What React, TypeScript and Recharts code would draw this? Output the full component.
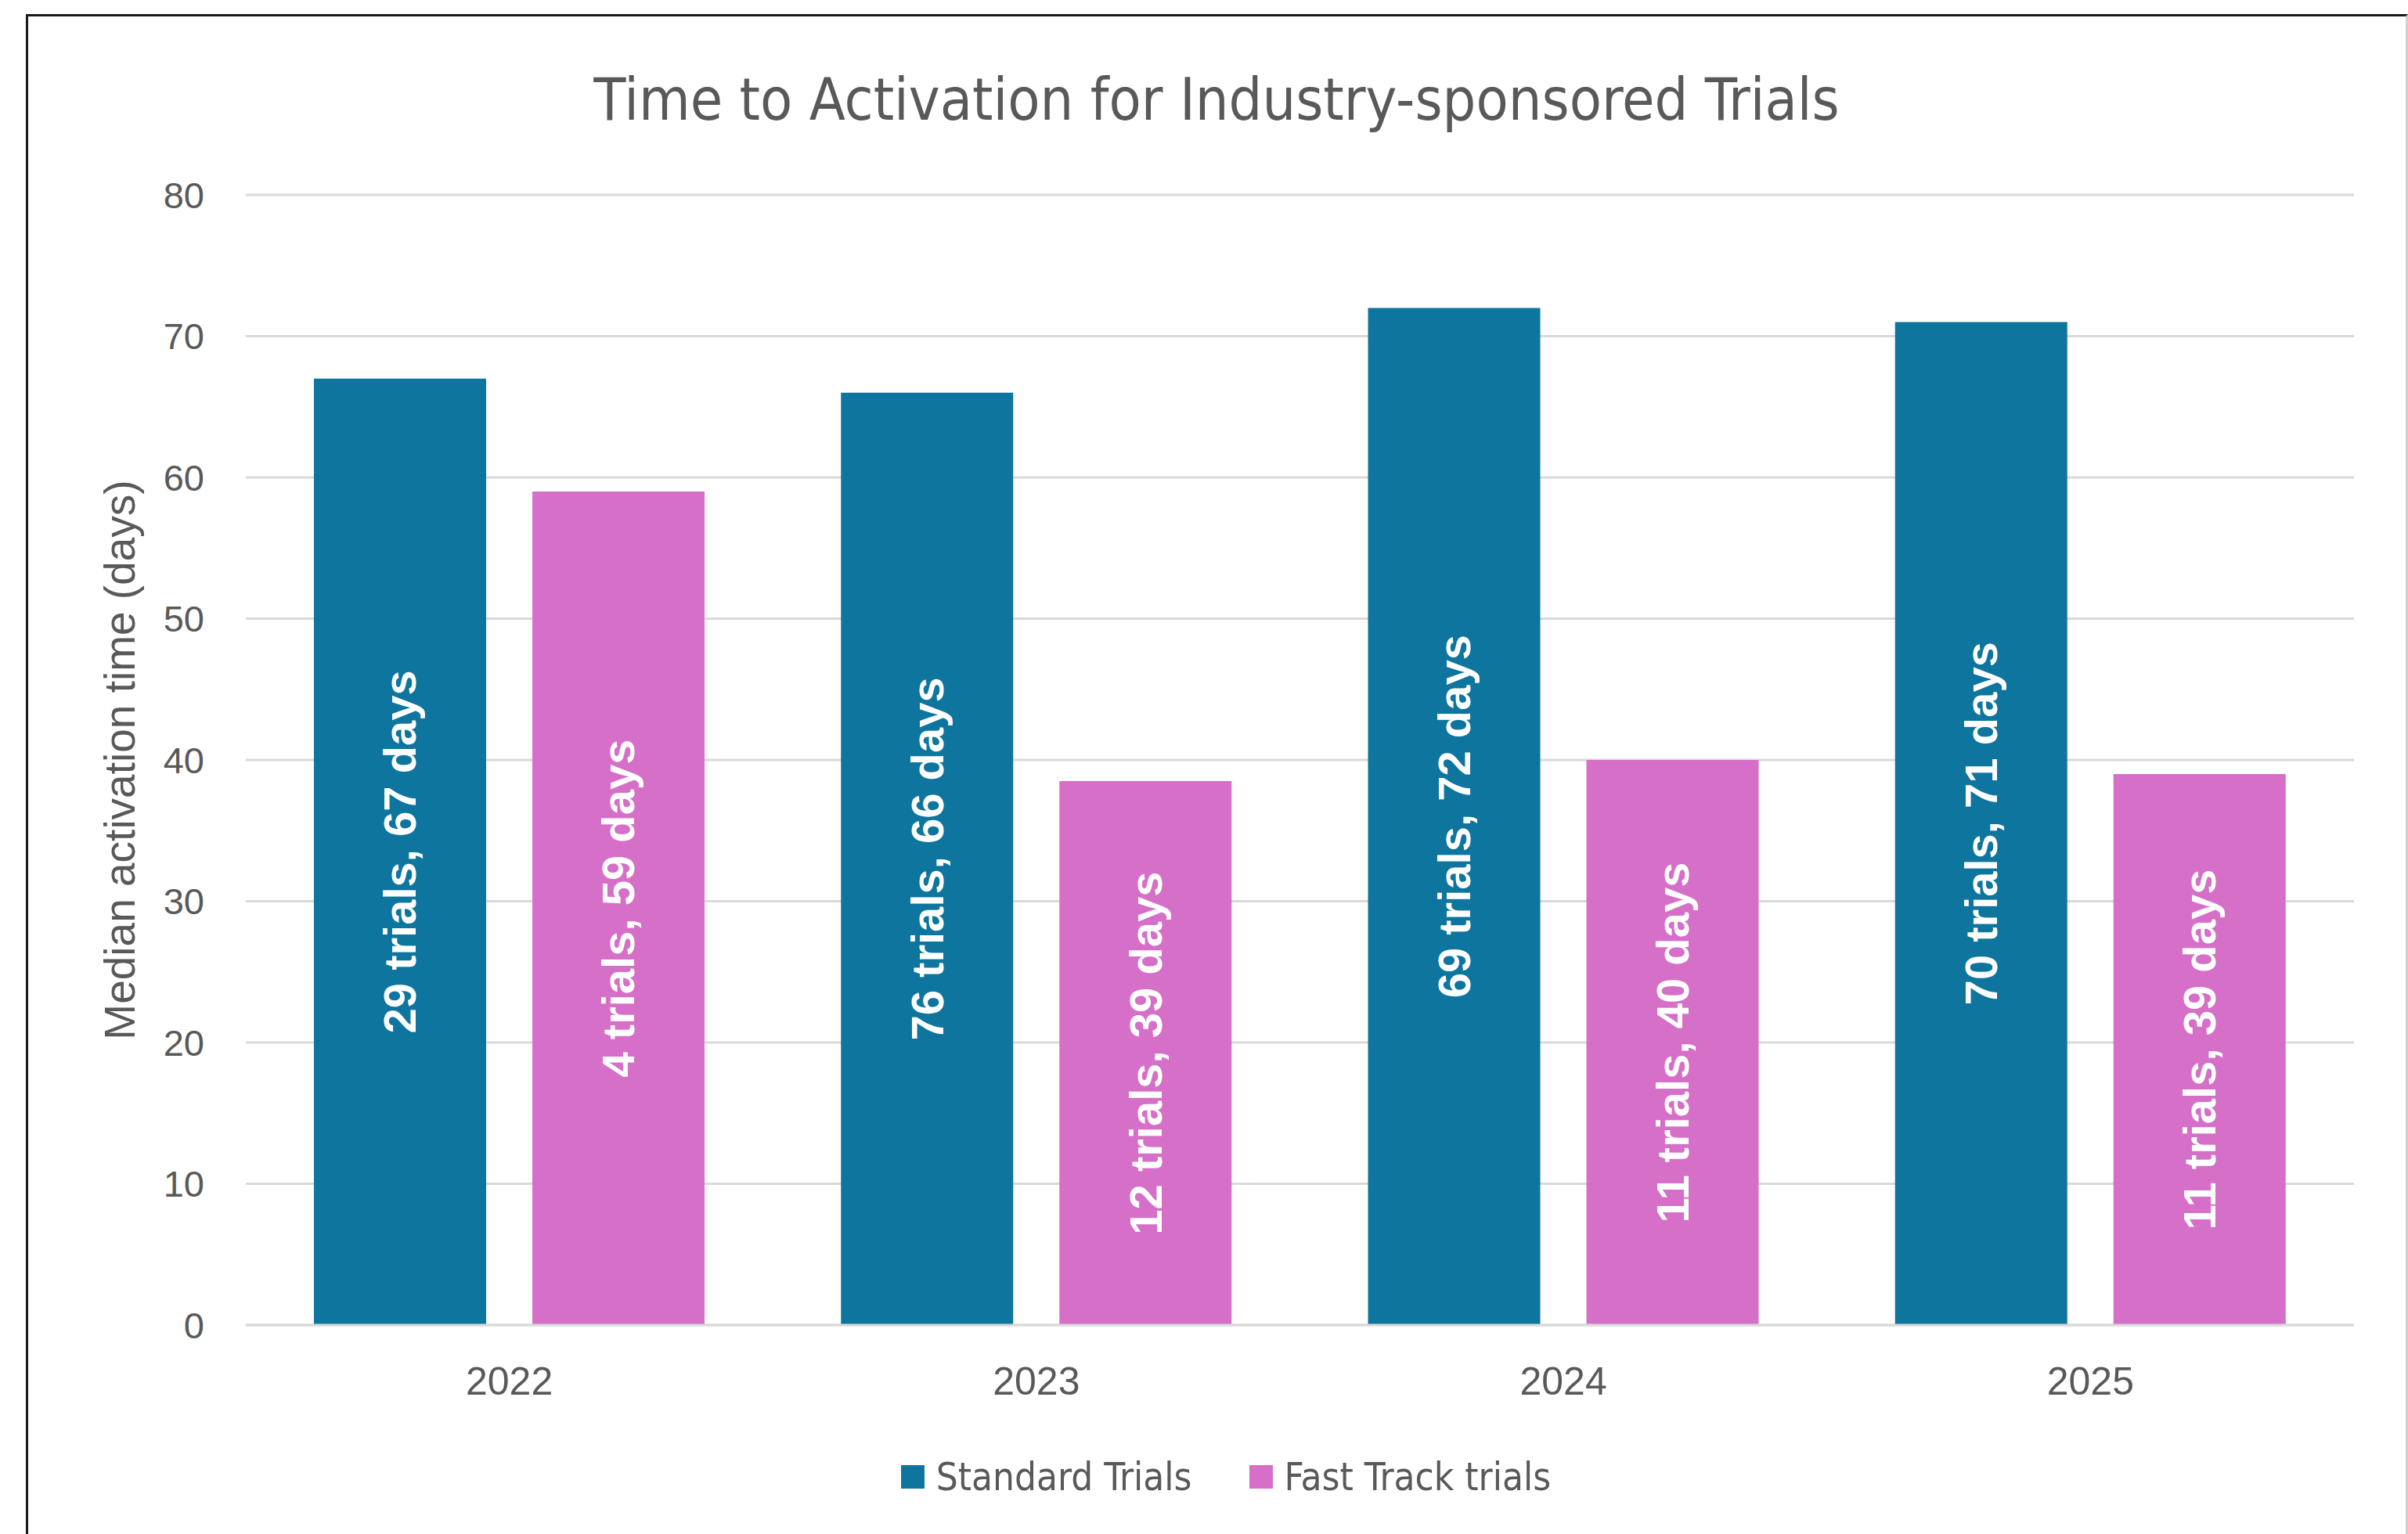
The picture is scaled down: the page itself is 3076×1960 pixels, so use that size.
import { BarChart, Bar, XAxis, YAxis, CartesianGrid, Legend, LabelList } from 'recharts';

const years = ['2022', '2023', '2024', '2025'];
const standardDays = [67, 66, 72, 71];
const fastTrackDays = [59, 38.5, 40, 39];
const standardTrials = [29, 76, 69, 70];
const fastTrackTrials = [4, 12, 11, 11];
const standardLabelDays = [67, 66, 72, 71];
const fastTrackLabelDays = [59, 39, 40, 39];
const yTicks = [0, 10, 20, 30, 40, 50, 60, 70, 80];

const seriesNames = ['Standard Trials', 'Fast Track trials'];
const seriesColors = ['#0D759E', '#D66FC8'];

const data = years.map((year, i) => ({
    year,
    standard: standardDays[i],
    fastTrack: fastTrackDays[i],
    standardLabel: `${standardTrials[i]} trials, ${standardLabelDays[i]} days`,
    fastTrackLabel: `${fastTrackTrials[i]} trials, ${fastTrackLabelDays[i]} days`,
}));

const narrowFont = '"Liberation Sans Narrow", "DejaVu Sans Condensed", "Roboto Condensed", "Arial Narrow", Roboto, sans-serif';
const axisFont = '"Liberation Sans", Arial, sans-serif';

const BarText = (props: any) => {
    const { x, y, width, height, value } = props;
    const cx = Number(x) + Number(width) / 2;
    const cy = Number(y) + Number(height) / 2;
    return (
        <text
            x={cx}
            y={cy}
            transform={`rotate(-90, ${cx}, ${cy})`}
            textAnchor="middle"
            dominantBaseline="central"
            fill="#ffffff"
            fontWeight={700}
            fontSize={58}
            fontFamily={axisFont}
        >
            {value}
        </text>
    );
};

const LegendContent = () => (
    <div style={{ display: 'flex', justifyContent: 'center', paddingLeft: 125, height: 70, alignItems: 'center' }}>
        {seriesNames.map((name, i) => (
            <div key={name} style={{ display: 'flex', alignItems: 'center', marginRight: i === 0 ? 73 : 0 }}>
                <span style={{ width: 30, height: 30, background: seriesColors[i], marginRight: 15, display: 'inline-block' }} />
                <span style={{ fontFamily: narrowFont, fontStretch: 'condensed', fontSize: 49, color: '#595959' }}>{name}</span>
            </div>
        ))}
    </div>
);

export default function App() {
    return (
        <div style={{ position: 'absolute', left: 0, top: 0, width: 3076, height: 1960, background: '#fff', overflow: 'hidden' }}>
            <div
                style={{
                    position: 'absolute',
                    left: 33,
                    top: 18,
                    width: 3076 - 33 - 6,
                    height: 1960,
                    borderTop: '3px solid #1a1a1a',
                    borderLeft: '3px solid #1a1a1a',
                    borderRight: '3px solid #d0d0d0',
                }}
            />
            <div
                style={{
                    position: 'absolute',
                    left: 0,
                    width: 3108,
                    top: 86,
                    textAlign: 'center',
                    fontFamily: narrowFont,
                    fontStretch: 'condensed',
                    fontSize: 75,
                    lineHeight: '82px',
                    color: '#595959',
                    whiteSpace: 'nowrap',
                }}
            >
                Time to Activation for Industry-sponsored Trials
            </div>
            <div
                style={{
                    position: 'absolute',
                    left: 153,
                    top: 971,
                    transform: 'translate(-50%, -50%) rotate(-90deg)',
                    fontFamily: axisFont,
                    fontSize: 55,
                    color: '#595959',
                    whiteSpace: 'nowrap',
                }}
            >
                Median activation time (days)
            </div>
            <div style={{ position: 'absolute', left: 0, top: 0 }}>
                <BarChart
                    width={3076}
                    height={1960}
                    data={data}
                    margin={{ top: 249, right: 69, bottom: 38, left: 0 }}
                    barGap={59}
                >
                    <CartesianGrid vertical={false} stroke="#d9d9d9" strokeWidth={3} />
                    <XAxis
                        dataKey="year"
                        height={159}
                        axisLine={{ stroke: '#d9d9d9', strokeWidth: 3 }}
                        tickLine={false}
                        tickSize={0}
                        tickMargin={53}
                        tick={{ fill: '#595959', fontSize: 50, fontFamily: axisFont }}
                    />
                    <YAxis
                        width={314}
                        domain={[0, 80]}
                        ticks={yTicks}
                        interval={0}
                        axisLine={false}
                        tickLine={false}
                        tickSize={0}
                        tickMargin={53}
                        tick={{ fill: '#595959', fontSize: 47, fontFamily: axisFont }}
                    />
                    <Legend verticalAlign="bottom" height={70} content={<LegendContent />} />
                    <Bar dataKey="standard" name={seriesNames[0]} fill={seriesColors[0]} barSize={220} isAnimationActive={false}>
                        <LabelList dataKey="standardLabel" content={<BarText />} />
                    </Bar>
                    <Bar dataKey="fastTrack" name={seriesNames[1]} fill={seriesColors[1]} barSize={220} isAnimationActive={false}>
                        <LabelList dataKey="fastTrackLabel" content={<BarText />} />
                    </Bar>
                </BarChart>
            </div>
        </div>
    );
}
